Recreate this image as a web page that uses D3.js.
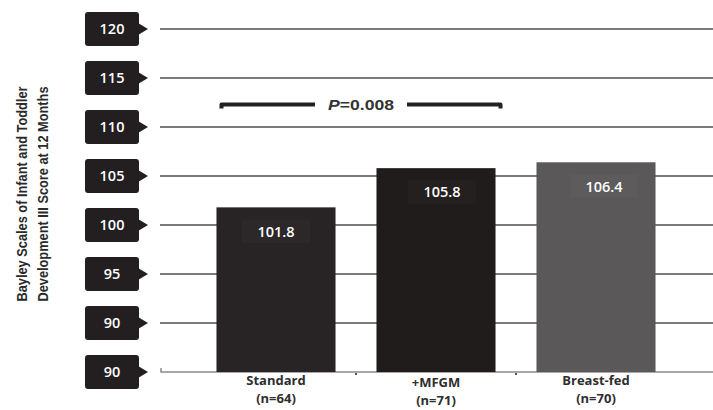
<!DOCTYPE html>
<html>
<head>
<meta charset="utf-8">
<script src="https://cdn.jsdelivr.net/npm/d3@7"></script>
<style>
  html, body { margin: 0; padding: 0; background: #fff; }
  svg { display: block; }
</style>
</head>
<body>
<script>
// ---- data ----
const categories = ["Standard", "+MFGM", "Breast-fed"];
const sampleSizes = ["(n=64)", "(n=71)", "(n=70)"];
const scores = [101.8, 105.8, 106.4];
const tickValues = [120, 115, 110, 105, 100, 95, 90, 85];
const tickLabels = ["120", "115", "110", "105", "100", "95", "90", "90"];
const pLabel = "=0.008";
const yTitle = ["Bayley Scales of Infant and Toddler", "Development III Score at 12 Months"];

// ---- styles / layout ----
const W = 713, H = 410;
const barColors = ["#282425", "#201c1b", "#5b5859"];
const labelShift = [0, 6, 8];

const svg = d3.select("body").append("svg").attr("width", W).attr("height", H);

const y = d3.scaleLinear().domain([85, 120]).range([372, 29]);
const x = d3.scaleBand().domain(categories).range([196, 676]).paddingInner(0.256).paddingOuter(0.128);

// gridlines
svg.append("g").selectAll("line").data(tickValues.slice(0, -1)).join("line")
  .attr("x1", 160).attr("x2", W)
  .attr("y1", d => y(d)).attr("y2", d => y(d))
  .attr("stroke", "#7a7a7a").attr("stroke-width", 2);

// baseline with small corner tick
svg.append("path")
  .attr("d", `M161,${y(85) - 4} L161,${y(85)} L${W},${y(85)}`)
  .attr("fill", "none").attr("stroke", "#8a8a8a").attr("stroke-width", 1.5);

// small marks between bars
const mids = [0, 1].map(i => (x(categories[i]) + x.bandwidth() + x(categories[i + 1])) / 2);
svg.append("g").selectAll("rect").data(mids).join("rect")
  .attr("x", d => d - 1).attr("y", y(85) + 1).attr("width", 2).attr("height", 2)
  .attr("fill", "#555");

// tick label boxes
const tg = svg.append("g").selectAll("g").data(tickValues).join("g")
  .attr("transform", d => `translate(0,${y(d)})`);
tg.append("rect")
  .attr("x", 85).attr("y", -17).attr("width", 54).attr("height", 34)
  .attr("rx", 3).attr("fill", "#231f20");
tg.append("path").attr("d", "M138,-6 L148,0 L138,6 Z").attr("fill", "#231f20");
tg.append("text")
  .attr("x", 112).attr("y", 0).attr("dy", "0.36em")
  .attr("text-anchor", "middle")
  .attr("font-family", "'Open Sans', sans-serif").attr("font-weight", 600)
  .attr("font-size", 14.5).attr("fill", "#fff")
  .text((d, i) => tickLabels[i]);

// bars
svg.append("g").selectAll("rect").data(scores).join("rect")
  .attr("x", (d, i) => x(categories[i]))
  .attr("y", d => y(d))
  .attr("width", x.bandwidth())
  .attr("height", d => y(85) - y(d))
  .attr("fill", (d, i) => barColors[i]);

// value labels
const vg = svg.append("g").selectAll("g").data(scores).join("g")
  .attr("transform", (d, i) => `translate(${x(categories[i]) + x.bandwidth() / 2 + labelShift[i]},${y(d) + 24})`);
vg.append("rect")
  .attr("x", -34).attr("y", -12).attr("width", 68).attr("height", 24)
  .attr("fill", "#fff").attr("fill-opacity", 0.02);
vg.append("text")
  .attr("text-anchor", "middle").attr("dy", "0.36em")
  .attr("font-family", "'Open Sans', sans-serif").attr("font-weight", 600)
  .attr("font-size", 14.5).attr("fill", "#fff")
  .text(d => d.toFixed(1));

// category labels
const cg = svg.append("g").selectAll("g").data(categories).join("g")
  .attr("transform", (d, i) => `translate(${x(d) + x.bandwidth() / 2},${i === 1 ? 2 : 0})`);
cg.append("text")
  .attr("y", 385).attr("text-anchor", "middle")
  .attr("font-family", "'Open Sans', sans-serif").attr("font-weight", 700)
  .attr("font-size", 13).attr("fill", "#2e2e2e")
  .text(d => d);
cg.append("text")
  .attr("y", 403).attr("text-anchor", "middle")
  .attr("font-family", "'Open Sans', sans-serif").attr("font-weight", 700)
  .attr("font-size", 13).attr("fill", "#2e2e2e")
  .text((d, i) => sampleSizes[i]);

// significance bracket
const bx1 = x(categories[0]) + 5, bx2 = x(categories[1]) + x.bandwidth() + 5;
const by = y(112.3);
const bmid = (bx1 + bx2) / 2;
svg.append("path")
  .attr("d", `M${bx1},${by + 4} L${bx1},${by} L${bmid - 46},${by} M${bmid + 46},${by} L${bx2},${by} L${bx2},${by + 4}`)
  .attr("fill", "none").attr("stroke", "#222").attr("stroke-width", 4)
  .attr("stroke-linejoin", "round");
const pt = svg.append("text")
  .attr("x", bmid).attr("y", by).attr("dy", "0.35em").attr("text-anchor", "middle")
  .attr("font-family", "'Liberation Sans', Arial, sans-serif").attr("font-weight", 700)
  .attr("font-size", 15).attr("fill", "#333")
  .attr("textLength", 66).attr("lengthAdjust", "spacingAndGlyphs");
pt.append("tspan").attr("font-style", "italic").text("P");
pt.append("tspan").text(pLabel);

// y-axis title
const yt = svg.append("text")
  .attr("transform", "translate(0,194) rotate(-90)")
  .attr("text-anchor", "middle")
  .attr("font-family", "'Liberation Sans', Arial, sans-serif")
  .attr("font-weight", 700).attr("font-size", 15.5).attr("fill", "#2a2a2a");
yt.selectAll("tspan").data(yTitle).join("tspan")
  .attr("x", 0).attr("y", (d, i) => 27 + i * 21)
  .attr("textLength", 215).attr("lengthAdjust", "spacingAndGlyphs")
  .text(d => d);
</script>
</body>
</html>
